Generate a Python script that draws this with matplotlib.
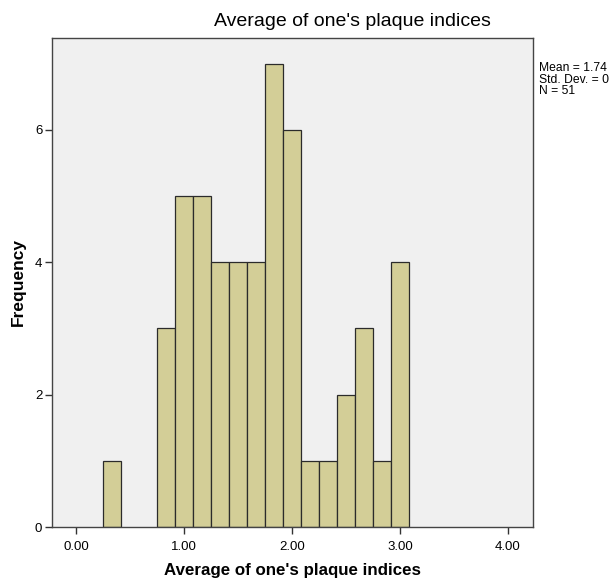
import matplotlib
matplotlib.use("Agg")
import matplotlib.pyplot as plt
import numpy as np

plt.rcParams['font.family'] = ['Liberation Sans', 'DejaVu Sans']

# histogram bins (width 1/6) and counts
bin_start = 0.25
bin_width = 1 / 6
counts = [1, 0, 0, 3, 5, 5, 4, 4, 4, 7, 6, 1, 1, 2, 3, 1, 4]
x_ticks = [0, 1, 2, 3, 4]
x_tick_labels = ["0.00", "1.00", "2.00", "3.00", "4.00"]
y_ticks = [0, 2, 4, 6]
stats_text = "Mean = 1.74\nStd. Dev. = 0\nN = 51"
title = "Average of one's plaque indices"

lefts = bin_start + bin_width * np.arange(len(counts))
mask = np.array(counts) > 0

fig = plt.figure(figsize=(6.14, 5.81), dpi=100)
ax = fig.add_axes([0.0847, 0.0929, 0.7829, 0.8422])
ax.set_facecolor("#f0f0f0")

ax.bar(lefts[mask], np.array(counts)[mask], width=bin_width, align="edge",
       color="#d3ce97", edgecolor="#2b2b2b", linewidth=0.9)

ax.set_xlim(-0.222, 4.229)
ax.set_ylim(0, 7.39)
ax.set_xticks(x_ticks)
ax.set_xticklabels(x_tick_labels)
ax.set_yticks(y_ticks)
ax.tick_params(direction="out", length=5, width=1, labelsize=9.5, color="#333333", pad=2)
ax.tick_params(axis="x", pad=5)

for s in ax.spines.values():
    s.set_color("#444444")
    s.set_linewidth(1)

fig.text(292 / 614, 1 - 571 / 581, title, ha="center", va="center",
         fontsize=12.2, fontweight="bold")
fig.text(18 / 614, 1 - 282 / 581, "Frequency", ha="center", va="center",
         rotation=90, fontsize=12.5, fontweight="bold")

fig.text(352 / 614, 1 - 22 / 581, title, ha="center", va="center", fontsize=14)
fig.text(539 / 614, 1 - 62 / 581, stats_text, ha="left", va="top", fontsize=8.7,
         linespacing=0.95)

fig.savefig("out.png", dpi=100)
